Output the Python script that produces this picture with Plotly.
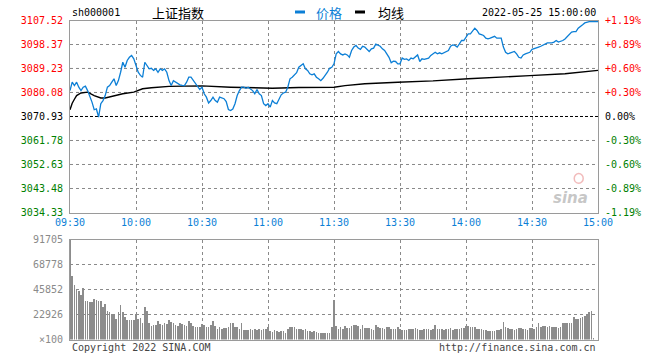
import plotly.graph_objects as go

# ---------------- data ----------------
prev_close = 3070.93
price_ticks = [3034.33, 3043.48, 3052.63, 3061.78, 3070.93, 3080.08, 3089.23, 3098.37, 3107.52]
pct_labels = ["-1.19%", "-0.89%", "-0.60%", "-0.30%", "0.00%", "+0.30%", "+0.60%", "+0.89%", "+1.19%"]
time_ticks = [0, 30, 60, 90, 120, 150, 180, 210, 240]   # minutes after open
time_labels = ["09:30", "10:00", "10:30", "11:00", "11:30", "13:30", "14:00", "14:30", "15:00"]

price = [
    3080.8, 3084.0, 3082.7, 3084.0, 3082.1, 3080.8, 3082.1, 3082.5, 3080.8, 3078.9,
    3076.4, 3073.5, 3073.8, 3070.7, 3075.8, 3077.0, 3078.9, 3082.1, 3082.7, 3084.0,
    3085.3, 3082.7, 3084.6, 3087.8, 3091.6, 3089.7, 3092.3, 3093.5, 3094.2, 3092.9,
    3090.4, 3087.8, 3086.6, 3085.9, 3091.6, 3090.4, 3089.1, 3089.3, 3088.5, 3089.1,
    3087.8, 3089.1, 3088.5, 3089.1, 3087.8, 3084.6, 3082.7, 3084.6, 3084.0, 3083.4,
    3083.0, 3082.8, 3082.7, 3084.0, 3085.9, 3085.9, 3084.6, 3083.4, 3082.1, 3081.2,
    3082.1, 3079.6, 3078.3, 3076.1, 3077.0, 3078.3, 3077.0, 3076.4, 3078.3, 3077.9,
    3077.7, 3076.6, 3073.6, 3073.2, 3073.8, 3075.8, 3078.9, 3080.8, 3082.1, 3082.1,
    3081.7, 3082.1, 3081.5, 3080.8, 3079.6, 3081.2, 3079.6, 3078.9, 3075.8, 3075.1,
    3075.8, 3074.5, 3077.0, 3076.1, 3075.8, 3077.7, 3079.2, 3079.9, 3080.2, 3082.1,
    3085.3, 3085.9, 3086.8, 3087.6, 3089.7, 3090.4, 3091.0, 3089.1, 3088.5, 3087.2,
    3086.8, 3087.2, 3085.9, 3085.3, 3084.6, 3085.5, 3086.6, 3087.8, 3089.3, 3089.7,
    3091.0, 3094.8, 3095.7, 3094.8, 3094.4, 3094.8, 3094.4, 3093.5, 3096.1, 3097.4,
    3098.0, 3097.0, 3096.5, 3097.7, 3097.4, 3096.7, 3095.7, 3096.7, 3097.0, 3098.5,
    3098.0, 3097.7, 3096.7, 3096.1, 3094.8, 3093.5, 3091.4, 3092.0, 3091.9, 3091.0,
    3091.0, 3093.2, 3092.7, 3092.9, 3092.3, 3093.2, 3092.9, 3093.5, 3094.4, 3091.9,
    3092.9, 3092.7, 3092.9, 3093.2, 3094.2, 3094.8, 3095.4, 3094.8, 3095.2, 3094.8,
    3095.2, 3095.7, 3096.1, 3097.7, 3098.2, 3098.0, 3097.4, 3098.6, 3099.9, 3099.9,
    3101.2, 3102.4, 3102.4, 3103.7, 3104.6, 3103.7, 3102.4, 3102.1, 3101.8, 3100.8,
    3100.5, 3100.8, 3101.2, 3101.5, 3100.8, 3100.8, 3100.8, 3097.4, 3095.4, 3094.8,
    3095.1, 3095.4, 3095.7, 3094.8, 3093.5, 3093.2, 3094.4, 3094.8, 3095.2, 3095.4,
    3096.5, 3096.7, 3097.0, 3097.4, 3097.7, 3098.2, 3098.6, 3099.0, 3099.0, 3099.0,
    3099.3, 3099.9, 3099.3, 3099.5, 3099.9, 3100.5, 3101.5, 3102.4, 3103.1, 3103.3,
    3103.3, 3104.6, 3105.4, 3105.9, 3106.6, 3106.9, 3107.1, 3107.1, 3107.1, 3107.1,
    3107.1,
]

avg_minutes = [0, 1, 2, 3, 5, 8, 11, 14, 16, 20, 24, 29, 33, 37, 41, 45, 52, 60,
               73, 82, 92, 104, 120, 125, 134, 149, 165, 181, 187, 194, 209, 225, 240]
avg_values = [3073.5, 3076.0, 3077.5, 3078.9, 3079.9, 3080.2, 3078.9, 3078.0, 3078.0,
              3078.9, 3079.6, 3080.2, 3081.5, 3081.9, 3082.2, 3082.4, 3082.5, 3082.6,
              3082.1, 3082.0, 3081.7, 3082.0, 3082.1, 3082.7, 3083.4, 3084.0, 3084.5,
              3085.3, 3085.5, 3085.9, 3086.5, 3087.2, 3088.5]

volume = [
    91705, 58460, 50770, 45540, 44620, 41540, 47690, 35390, 36000, 34460,
    34460, 37850, 36310, 36000, 35390, 30150, 33230, 26150, 25230, 24000,
    23080, 19080, 25230, 32310, 25230, 21540, 18460, 18460, 18460, 18460,
    24000, 19080, 20000, 16000, 30150, 26150, 16000, 12920, 13850, 13850,
    17540, 14460, 13850, 15380, 14770, 18460, 16920, 15380, 13850, 12920,
    15380, 14460, 13850, 12920, 17230, 15380, 12920, 12000, 12310, 12310,
    14460, 13540, 12310, 11690, 13540, 17850, 12920, 10460, 12310, 10460,
    11080, 11080, 12310, 16000, 15380, 11690, 11690, 10460, 15380, 9230,
    9230, 9230, 9850, 9230, 9850, 9230, 9850, 9230, 9850, 10460,
    12310, 8620, 7690, 9230, 8310, 7690, 8310, 8620, 6770, 10460,
    12310, 11690, 11690, 9850, 10460, 9850, 9230, 9850, 8310, 8620,
    7690, 8310, 7690, 6150, 6770, 6150, 6770, 6150, 6770, 12310,
    36920, 12920, 10460, 11690, 10150, 12920, 10770, 11380, 13230, 13540,
    13850, 13230, 9850, 13540, 11380, 10770, 11380, 10460, 9230, 13850,
    11690, 11380, 10770, 10150, 12310, 11690, 10150, 9850, 10460, 12310,
    10150, 9230, 9230, 9230, 9850, 10150, 10150, 11380, 10460, 9230,
    9230, 9850, 9850, 10460, 9230, 10460, 13850, 10460, 10150, 10150,
    9230, 10150, 10460, 11380, 9230, 9850, 10150, 10150, 10770, 10770,
    13230, 12920, 12310, 12000, 11690, 10460, 10150, 10460, 9230, 9230,
    8620, 8310, 8620, 8310, 9230, 9230, 10150, 16620, 12310, 11380,
    10460, 9850, 9230, 10460, 11380, 10770, 10150, 9850, 9230, 10770,
    10770, 9850, 11690, 15380, 12310, 12920, 12920, 12310, 12920, 11690,
    12310, 11690, 11380, 11690, 15380, 16000, 16000, 15380, 15380, 20920,
    19690, 19690, 20000, 20920, 22150, 23080, 25850, 27000, 1540, 0,
    0,
]
vol_ticks = [0, 22926, 45852, 68778, 91705]
vol_labels = ["×100", "22926", "45852", "68778", "91705"]

minutes = list(range(len(price)))

# ---------------- styles ----------------
BLUE = "#0c7fd6"
RED = "#ff0000"
GREEN = "#008000"
GRID = "#8a8a8a"
FRAME = "#9a9a9a"
MONO = "DejaVu Sans Mono, Liberation Mono, monospace"
CJK = "Noto Sans CJK SC, sans-serif"
HALF = 0.5 / 320   # half-pixel shift so 1px horizontal lines land on pixel rows


def col(v):
    if v > prev_close + 1e-6:
        return RED
    if v < prev_close - 1e-6:
        return GREEN
    return "#000000"


left_text = [f"<span style='color:{col(v)}'>{v:.2f}</span>" for v in price_ticks]
right_text = [f"<span style='color:{col(v)}'>{p}</span>" for v, p in zip(price_ticks, pct_labels)]

fig = go.Figure()

# horizontal dotted grid lines (price panel), at the tick levels
for v in price_ticks[1:-1]:
    if v == prev_close:
        continue
    fig.add_trace(go.Scatter(x=[time_ticks[0], time_ticks[-1]], y=[v, v], mode="lines",
                             line=dict(color=GRID, width=1, dash="dot"),
                             xaxis="x", yaxis="y", hoverinfo="skip"))
# horizontal dotted grid lines (volume panel)
for v in vol_ticks[1:-1]:
    fig.add_trace(go.Scatter(x=[time_ticks[0], time_ticks[-1]], y=[v, v], mode="lines",
                             line=dict(color=GRID, width=1, dash="dot"),
                             xaxis="x2", yaxis="y3", hoverinfo="skip"))

fig.add_trace(go.Scatter(x=[time_ticks[0], time_ticks[-1]], y=[prev_close, prev_close],
                         mode="lines", line=dict(color="#000000", width=1, dash="3px,2px"),
                         xaxis="x", yaxis="y", hoverinfo="skip"))
fig.add_trace(go.Scatter(x=avg_minutes, y=avg_values, mode="lines",
                         line=dict(color="#000000", width=1.4), xaxis="x", yaxis="y"))
fig.add_trace(go.Scatter(x=minutes, y=price, mode="lines",
                         line=dict(color=BLUE, width=1.3), xaxis="x", yaxis="y"))
# invisible trace to activate the right axis
fig.add_trace(go.Scatter(x=[time_ticks[0]], y=[prev_close], mode="markers",
                         marker=dict(opacity=0), xaxis="x", yaxis="y2", hoverinfo="skip"))
fig.add_trace(go.Bar(x=minutes, y=volume, width=0.36, marker=dict(color="#8c8c8c", line=dict(width=0)),
                     xaxis="x2", yaxis="y3"))

axis_common = dict(showline=True, linecolor=FRAME, linewidth=1, mirror=True,
                   zeroline=False, ticks="", fixedrange=True)
xgrid = dict(showgrid=True, gridcolor=GRID, griddash="dot", gridwidth=1)

fig.update_layout(
    width=660, height=360,
    margin=dict(l=70, r=62, t=20, b=20),
    paper_bgcolor="white", plot_bgcolor="white",
    showlegend=False,
    bargap=0,
    font=dict(family=MONO, size=10, color="#000000"),
    xaxis=dict(domain=[0, 1], anchor="y", range=[0, 240],
               tickvals=time_ticks, ticktext=time_labels,
               tickfont=dict(family=MONO, size=10, color=BLUE),
               **xgrid, **axis_common),
    yaxis=dict(domain=[0.4 - HALF, 1 - HALF], anchor="x", range=[price_ticks[0], price_ticks[-1]],
               tickvals=price_ticks, ticktext=left_text,
               tickfont=dict(family=MONO, size=10),
               ticklabelstandoff=4, showgrid=False,
               **axis_common),
    yaxis2=dict(overlaying="y", side="right", anchor="x", range=[price_ticks[0], price_ticks[-1]],
                tickvals=price_ticks, ticktext=right_text,
                tickfont=dict(family=MONO, size=10),
                showgrid=False, ticklabelstandoff=4,
                **axis_common),
    xaxis2=dict(domain=[0, 1], anchor="y3", range=[0, 240],
                tickvals=time_ticks, showticklabels=False,
                **xgrid, **axis_common),
    yaxis3=dict(domain=[HALF, 0.3125 + HALF], anchor="x2", range=[vol_ticks[0], vol_ticks[-1]],
                tickvals=vol_ticks, ticktext=vol_labels,
                tickfont=dict(family=MONO, size=10, color="#8a8a8a"),
                ticklabelstandoff=4, showgrid=False,
                **axis_common),
)

ann = []
ann.append(dict(x=0, y=1.0234, xref="paper", yref="paper", text="sh000001", showarrow=False,
                xanchor="left", yanchor="middle", font=dict(family=MONO, size=10, color="#000")))
ann.append(dict(x=0.152, y=1.0234, xref="paper", yref="paper", text="上证指数", showarrow=False,
                xanchor="left", yanchor="middle", font=dict(family=CJK, size=13, color="#000")))
ann.append(dict(x=0.462, y=1.0234, xref="paper", yref="paper", text="价格", showarrow=False,
                xanchor="left", yanchor="middle", font=dict(family=CJK, size=13, color=BLUE)))
ann.append(dict(x=0.579, y=1.0234, xref="paper", yref="paper", text="均线", showarrow=False,
                xanchor="left", yanchor="middle", font=dict(family=CJK, size=13, color="#000")))
ann.append(dict(x=1.0, y=1.0234, xref="paper", yref="paper", text="2022-05-25 15:00:00", showarrow=False,
                xanchor="right", yanchor="middle", font=dict(family=MONO, size=10, color="#000")))
ann.append(dict(x=0, y=-0.022, xref="paper", yref="paper", text="Copyright 2022 SINA.COM", showarrow=False,
                xanchor="left", yanchor="middle", font=dict(family=MONO, size=10, color="#444")))
ann.append(dict(x=1.0, y=-0.022, xref="paper", yref="paper", text="http://finance.sina.com.cn", showarrow=False,
                xanchor="right", yanchor="middle", font=dict(family=MONO, size=10, color="#444")))
ann.append(dict(x=0.985, y=0.445, xref="paper", yref="paper", text="<b><i>sina</i></b>", showarrow=False,
                xanchor="right", yanchor="middle", font=dict(family="DejaVu Sans", size=15, color="rgba(150,150,150,0.55)")))
fig.update_layout(annotations=ann)

shapes = [
    dict(type="line", xref="paper", yref="paper", x0=0.4261, x1=0.4451, y0=1.025, y1=1.025,
         line=dict(color=BLUE, width=3)),
    dict(type="line", xref="paper", yref="paper", x0=0.5398, x1=0.5587, y0=1.025, y1=1.025,
         line=dict(color="#000", width=3)),
    dict(type="circle", xref="paper", yref="paper", x0=0.955, x1=0.972, y0=0.49, y1=0.52,
         line=dict(color="rgba(230,120,120,0.5)", width=1.5)),
]
# horizontal grid lines also as layout shapes (below the data)
for v in price_ticks[1:-1]:
    if v == prev_close:
        continue
    shapes.append(dict(type="line", xref="x", yref="y", x0=time_ticks[0], x1=time_ticks[-1],
                       y0=v, y1=v, layer="below", line=dict(color=GRID, width=1, dash="dot")))
for v in vol_ticks[1:-1]:
    shapes.append(dict(type="line", xref="x2", yref="y3", x0=time_ticks[0], x1=time_ticks[-1],
                       y0=v, y1=v, layer="below", line=dict(color=GRID, width=1, dash="dot")))
fig.update_layout(shapes=shapes)

fig.write_html("out.html")
